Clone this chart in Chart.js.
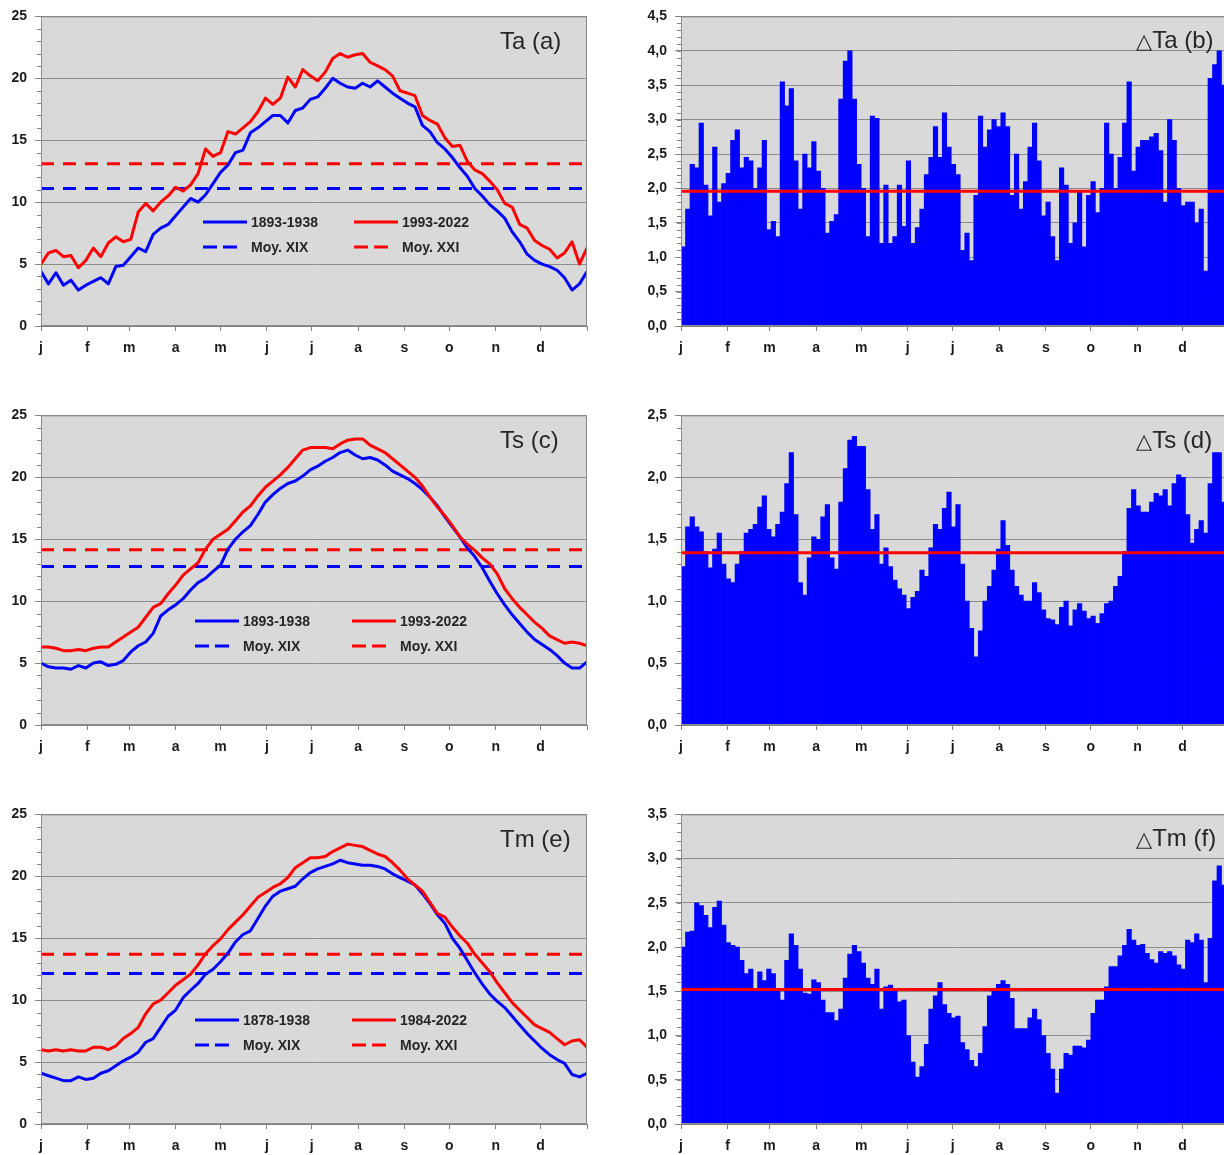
<!DOCTYPE html>
<html>
<head>
<meta charset="utf-8">
<script src="https://cdn.jsdelivr.net/npm/chart.js@4.4.1/dist/chart.umd.min.js"></script>
<style>
  html, body { margin: 0; padding: 0; background: #ffffff; }
  body { width: 1224px; height: 1155px; overflow: hidden; position: relative;
         font-family: "Liberation Sans", Arial, sans-serif; }
  .box { position: absolute; }
  .box canvas { display: block; }
  .title { position: absolute; font-size: 24px; line-height: 28px; height: 28px;
           color: #262626; white-space: nowrap; }
  .title .tri { font-family: "DejaVu Sans", sans-serif; font-size: 21px; }
  .legtxt { position: absolute; font-size: 14px; font-weight: bold; line-height: 16px;
            color: #262626; white-space: nowrap; }
  .legline { position: absolute; }
</style>
</head>
<body>
<div class="box" style="left:0;top:0;"><canvas id="ta" width="600" height="360"></canvas></div>
<div class="box" style="left:620px;top:0;"><canvas id="dta" width="620" height="360"></canvas></div>
<div class="box" style="left:0;top:399px;"><canvas id="ts" width="600" height="360"></canvas></div>
<div class="box" style="left:620px;top:399px;"><canvas id="dts" width="620" height="360"></canvas></div>
<div class="box" style="left:0;top:798px;"><canvas id="tm" width="600" height="360"></canvas></div>
<div class="box" style="left:620px;top:798px;"><canvas id="dtm" width="620" height="360"></canvas></div>
<div id="overlay"></div>

<script>
// ---- calendar ----
const MONTHS = ['j', 'f', 'm', 'a', 'm', 'j', 'j', 'a', 's', 'o', 'n', 'd'];
const MONTH_START = [0, 31, 59, 90, 120, 151, 181, 212, 243, 273, 304, 334];
const YEAR_DAYS = 365;
const LINE_STEP = 5;   // curves: one value every 5 days
const BAR_STEP = 3;    // differences: one bar per 3 days

// ---- Ta : air temperature (°C) ----
const TA_OLD = [4.4, 3.4, 4.3, 3.3, 3.7, 2.9, 3.3, 3.6, 3.9, 3.4, 4.8, 4.9, 5.6, 6.3, 6.0, 7.4, 7.9, 8.2, 8.9, 9.6,
  10.3, 10.0, 10.6, 11.5, 12.4, 13.0, 14.0, 14.2, 15.6, 16.0, 16.5, 17.0, 17.0, 16.4, 17.4, 17.6, 18.3, 18.5,
  19.2, 20.0, 19.6, 19.3, 19.2, 19.6, 19.3, 19.8, 19.3, 18.8, 18.4, 18.0, 17.7, 16.2, 15.7, 14.8, 14.3, 13.6,
  12.8, 12.1, 11.1, 10.5, 9.8, 9.3, 8.7, 7.6, 6.8, 5.8, 5.3, 5.0, 4.8, 4.5, 3.9, 2.9, 3.4, 4.4];
const TA_NEW = [5.0, 5.9, 6.1, 5.6, 5.7, 4.7, 5.3, 6.3, 5.6, 6.7, 7.2, 6.8, 7.0, 9.2, 9.9, 9.3, 10.0, 10.5, 11.2, 10.9,
  11.4, 12.3, 14.3, 13.7, 14.0, 15.7, 15.5, 16.0, 16.5, 17.3, 18.4, 17.9, 18.4, 20.1, 19.3, 20.7, 20.2, 19.8,
  20.5, 21.6, 22.0, 21.7, 21.9, 22.0, 21.3, 21.0, 20.7, 20.2, 19.0, 18.8, 18.6, 17.0, 16.6, 16.3, 15.2, 14.5,
  14.6, 13.3, 12.6, 12.3, 11.7, 11.0, 9.9, 9.6, 8.2, 7.9, 6.9, 6.5, 6.2, 5.5, 5.9, 6.8, 5.0, 6.3];
const TA_MEAN_OLD = 11.1;
const TA_MEAN_NEW = 13.1;

// ---- Ts : surface temperature (°C) ----
const TS_OLD = [5.0, 4.7, 4.6, 4.6, 4.5, 4.8, 4.6, 5.0, 5.1, 4.8, 4.9, 5.2, 5.9, 6.4, 6.7, 7.4, 8.8, 9.3, 9.7, 10.2,
  10.9, 11.5, 11.85, 12.4, 12.9, 14.2, 15.0, 15.6, 16.1, 17.0, 18.0, 18.6, 19.1, 19.5, 19.7, 20.1, 20.6, 20.9,
  21.3, 21.6, 22.0, 22.2, 21.8, 21.5, 21.6, 21.4, 21.0, 20.5, 20.2, 19.9, 19.5, 19.0, 18.4, 17.7, 16.8, 16.0,
  15.2, 14.3, 13.6, 12.7, 11.6, 10.6, 9.7, 8.9, 8.2, 7.5, 6.9, 6.5, 6.1, 5.6, 5.0, 4.6, 4.6, 5.1];
const TS_NEW = [6.3, 6.3, 6.2, 6.0, 6.0, 6.1, 6.0, 6.2, 6.3, 6.3, 6.7, 7.1, 7.5, 7.9, 8.7, 9.5, 9.8, 10.6, 11.3, 12.1,
  12.6, 13.1, 14.2, 15.0, 15.4, 15.8, 16.5, 17.2, 17.7, 18.5, 19.2, 19.7, 20.2, 20.8, 21.5, 22.2, 22.4, 22.4,
  22.4, 22.3, 22.7, 23.0, 23.1, 23.1, 22.6, 22.3, 22.0, 21.5, 21.0, 20.5, 20.0, 19.3, 18.4, 17.6, 16.9, 16.1,
  15.2, 14.6, 14.1, 13.5, 13.0, 12.2, 11.0, 10.2, 9.5, 8.9, 8.3, 7.8, 7.2, 6.9, 6.6, 6.7, 6.6, 6.4];
const TS_MEAN_OLD = 12.8;
const TS_MEAN_NEW = 14.15;

// ---- Tm : mean temperature (°C) ----
const TM_OLD = [4.1, 3.9, 3.7, 3.5, 3.5, 3.8, 3.6, 3.7, 4.1, 4.3, 4.7, 5.1, 5.4, 5.8, 6.6, 6.9, 7.8, 8.7, 9.2, 10.2,
  10.8, 11.35, 12.1, 12.5, 13.1, 13.8, 14.7, 15.3, 15.6, 16.6, 17.6, 18.4, 18.8, 19.0, 19.2, 19.8, 20.3, 20.6,
  20.8, 21.0, 21.3, 21.1, 21.0, 20.9, 20.9, 20.8, 20.6, 20.2, 19.9, 19.6, 19.3, 18.6, 17.8, 16.9, 16.2, 15.0,
  14.2, 13.2, 12.2, 11.3, 10.5, 9.9, 9.4, 8.7, 8.0, 7.3, 6.7, 6.1, 5.6, 5.2, 4.9, 4.0, 3.8, 4.1];
const TM_NEW = [6.0, 5.9, 6.0, 5.9, 6.0, 5.9, 5.9, 6.2, 6.2, 6.0, 6.3, 6.9, 7.3, 7.8, 8.9, 9.7, 10.0, 10.6, 11.2, 11.65,
  12.1, 12.85, 13.75, 14.4, 14.95, 15.7, 16.3, 16.9, 17.6, 18.3, 18.7, 19.1, 19.4, 19.9, 20.7, 21.1, 21.5, 21.5,
  21.6, 22.0, 22.3, 22.6, 22.5, 22.4, 22.1, 21.8, 21.6, 21.1, 20.5, 19.8, 19.3, 18.8, 17.9, 17.0, 16.7, 15.9,
  15.2, 14.6, 13.7, 13.0, 12.3, 11.4, 10.6, 9.8, 9.2, 8.6, 8.0, 7.7, 7.4, 6.9, 6.4, 6.7, 6.8, 6.2];
const TM_MEAN_OLD = 12.15;
const TM_MEAN_NEW = 13.7;

// ---- differences (°C) ----
const D_TA = [1.15, 1.7, 2.35, 2.3, 2.95, 2.05, 1.6, 2.6, 1.8, 2.07,
  2.22, 2.7, 2.85, 2.3, 2.45, 2.4, 2.0, 2.3, 2.7, 1.4,
  1.52, 1.3, 3.55, 3.2, 3.45, 2.4, 1.7, 2.5, 2.3, 2.68,
  2.25, 2.0, 1.35, 1.52, 1.62, 3.3, 3.85, 4.0, 3.3, 2.35,
  2.0, 1.3, 3.05, 3.02, 1.2, 2.05, 1.2, 1.3, 2.05, 1.45,
  2.4, 1.2, 1.43, 1.7, 2.2, 2.45, 2.9, 2.45, 3.1, 2.6,
  2.35, 2.2, 1.1, 1.35, 0.95, 1.9, 3.05, 2.6, 2.85, 3.0,
  2.9, 3.1, 2.9, 1.9, 2.5, 1.7, 2.1, 2.6, 2.95, 2.4,
  1.6, 1.8, 1.3, 0.95, 2.3, 2.05, 1.2, 1.5, 1.95, 1.15,
  1.9, 2.1, 1.65, 2.0, 2.95, 2.5, 2.0, 2.45, 2.95, 3.55,
  2.25, 2.6, 2.7, 2.7, 2.75, 2.8, 2.55, 1.8, 3.0, 2.7,
  2.0, 1.75, 1.8, 1.8, 1.5, 1.7, 0.8, 3.6, 3.8, 4.0,
  3.5, 3.5];
const D_TA_MEAN = 1.96;

const D_TS = [1.28, 1.6, 1.68, 1.6, 1.56, 1.4, 1.27, 1.42, 1.55, 1.3,
  1.18, 1.15, 1.3, 1.4, 1.55, 1.58, 1.62, 1.76, 1.85, 1.58,
  1.52, 1.62, 1.72, 1.95, 2.2, 1.7, 1.15, 1.05, 1.35, 1.52,
  1.5, 1.68, 1.78, 1.35, 1.26, 1.8, 2.07, 2.3, 2.33, 2.25,
  2.25, 1.9, 1.58, 1.7, 1.3, 1.43, 1.28, 1.17, 1.1, 1.05,
  0.94, 1.03, 1.08, 1.25, 1.2, 1.43, 1.62, 1.58, 1.75, 1.88,
  1.6, 1.78, 1.3, 1.0, 0.78, 0.55, 0.76, 1.0, 1.12, 1.25,
  1.42, 1.65, 1.45, 1.25, 1.12, 1.05, 1.0, 1.0, 1.15, 1.07,
  0.93, 0.86, 0.85, 0.81, 0.95, 1.0, 0.8, 0.93, 0.98, 0.92,
  0.86, 0.88, 0.82, 0.9, 0.98, 1.0, 1.12, 1.2, 1.4, 1.75,
  1.9, 1.77, 1.72, 1.72, 1.8, 1.87, 1.85, 1.9, 1.77, 1.95,
  2.02, 2.0, 1.7, 1.47, 1.58, 1.65, 1.55, 1.95, 2.2, 2.2,
  1.8, 1.8];
const D_TS_MEAN = 1.39;

const D_TM = [2.0, 2.17, 2.18, 2.5, 2.47, 2.36, 2.22, 2.45, 2.52, 2.25,
  2.05, 2.02, 2.0, 1.85, 1.7, 1.75, 1.52, 1.72, 1.62, 1.75,
  1.7, 1.5, 1.4, 1.85, 2.15, 2.02, 1.75, 1.48, 1.47, 1.63,
  1.6, 1.4, 1.26, 1.26, 1.17, 1.3, 1.65, 1.92, 2.02, 1.95,
  1.82, 1.65, 1.58, 1.75, 1.3, 1.55, 1.57, 1.5, 1.38, 1.4,
  1.0, 0.7, 0.53, 0.65, 0.9, 1.3, 1.45, 1.6, 1.35, 1.25,
  1.2, 1.22, 0.92, 0.84, 0.72, 0.65, 0.8, 1.1, 1.45, 1.5,
  1.58, 1.62, 1.58, 1.42, 1.08, 1.08, 1.08, 1.2, 1.3, 1.18,
  1.0, 0.8, 0.62, 0.35, 0.62, 0.8, 0.78, 0.88, 0.88, 0.86,
  0.95, 1.25, 1.4, 1.4, 1.55, 1.78, 1.78, 1.9, 2.02, 2.2,
  2.08, 2.02, 2.03, 1.93, 1.86, 1.82, 1.95, 1.93, 1.95, 1.9,
  1.8, 1.75, 2.08, 2.05, 2.15, 2.08, 1.6, 2.1, 2.75, 2.92,
  2.7, 2.7];
const D_TM_MEAN = 1.52;

// ---- legend / title texts ----
const MEAN_LABELS = ['Moy. XIX', 'Moy. XXI'];
const PERIODS_TA = ['1893-1938', '1993-2022'];
const PERIODS_TS = ['1893-1938', '1993-2022'];
const PERIODS_TM = ['1878-1938', '1984-2022'];

// ---------------------------------------------------------------
const BLUE = '#0000ff';
const RED = '#ff0000';
const FONT = '"Liberation Sans", Arial, sans-serif';
Chart.defaults.font.family = FONT;
Chart.defaults.animation = false;

const asCurve = (vals, step) => vals.map((v, i) => ({ x: i * step, y: v }));
const asBins = (vals, step) => vals.map((v, i) => ({ x: i * step + step / 2, y: v }));
const flat = v => [{ x: 0, y: v }, { x: YEAR_DAYS, y: v }];

// grey plot background, frame and minor ticks on the value axis
const plotFrame = {
  id: 'plotFrame',
  beforeDraw(chart) {
    const { ctx, chartArea: a } = chart;
    ctx.save();
    ctx.fillStyle = '#d9d9d9';
    ctx.fillRect(a.left, a.top, a.width, a.height);
    ctx.restore();
  },
  afterDraw(chart, args, opts) {
    const { ctx, chartArea: a } = chart;
    const y = chart.scales.y;
    ctx.save();
    ctx.strokeStyle = '#8c8c8c';
    ctx.lineWidth = 1;
    ctx.strokeRect(a.left + 0.5, a.top + 0.5, a.width - 1, a.height - 1);
    ctx.strokeStyle = '#808080';
    const n = Math.round((y.max - y.min) / opts.minor);
    for (let k = 0; k <= n; k++) {
      const p = Math.round(y.getPixelForValue(y.min + k * opts.minor)) + 0.5;
      ctx.beginPath();
      ctx.moveTo(a.left - 4, p);
      ctx.lineTo(a.left, p);
      ctx.stroke();
    }
    ctx.restore();
  }
};

function xScale(showEnd) {
  return {
    type: 'linear', min: 0, max: YEAR_DAYS, offset: false,
    afterBuildTicks: s => {
      const vals = showEnd ? [...MONTH_START, YEAR_DAYS] : MONTH_START;
      s.ticks = vals.map(v => ({ value: v }));
    },
    afterFit: s => { s.height = 34; },
    ticks: {
      autoSkip: false, maxRotation: 0, minRotation: 0, padding: 9, color: '#1a1a1a',
      font: { size: 14, weight: 'bold' },
      callback: v => { const i = MONTH_START.indexOf(v); return i < 0 ? '' : MONTHS[i]; }
    },
    grid: { drawOnChartArea: false, drawTicks: true, tickLength: 5, color: '#808080', offset: false },
    border: { color: '#808080' }
  };
}

function yScale(max, step, width, fmt) {
  return {
    min: 0, max: max,
    afterFit: s => { s.width = width; },
    ticks: { stepSize: step, padding: 8, color: '#1a1a1a', font: { size: 14, weight: 'bold' }, callback: fmt },
    grid: { color: '#8c8c8c', lineWidth: 1, tickLength: 6 },
    border: { color: '#808080' }
  };
}

function curvePanel(id, oldVals, newVals, meanOld, meanNew) {
  const line = (data, color, order, dash) => ({
    type: 'line', data, borderColor: color, borderWidth: 3, pointRadius: 0,
    borderDash: dash || [], borderJoinStyle: 'round', order, tension: 0
  });
  new Chart(document.getElementById(id), {
    type: 'line',
    data: {
      datasets: [
        line(asCurve(newVals, LINE_STEP), RED, 0),
        line(asCurve(oldVals, LINE_STEP), BLUE, 1),
        line(flat(meanNew), RED, 2, [13, 9]),
        line(flat(meanOld), BLUE, 3, [13, 9])
      ]
    },
    options: {
      responsive: false, devicePixelRatio: 1,
      layout: { padding: { top: 15, right: 13, left: 0, bottom: 0 } },
      plugins: { legend: { display: false }, tooltip: { enabled: false }, plotFrame: { minor: 1 } },
      scales: { x: xScale(true), y: yScale(25, 5, 41, v => String(v)) }
    },
    plugins: [plotFrame]
  });
}

function diffPanel(id, vals, mean, max) {
  new Chart(document.getElementById(id), {
    type: 'bar',
    data: {
      datasets: [
        { type: 'line', data: flat(mean), borderColor: RED, borderWidth: 3, pointRadius: 0, order: 0 },
        { type: 'bar', data: asBins(vals, BAR_STEP), backgroundColor: BLUE, borderWidth: 0,
          barPercentage: 1, categoryPercentage: 1, grouped: false, order: 1 }
      ]
    },
    options: {
      responsive: false, devicePixelRatio: 1,
      layout: { padding: { top: 15, right: 11, left: 0, bottom: 0 } },
      plugins: { legend: { display: false }, tooltip: { enabled: false }, plotFrame: { minor: 0.1 } },
      scales: { x: xScale(false), y: yScale(max, 0.5, 61, v => v.toFixed(1).replace('.', ',')) }
    },
    plugins: [plotFrame]
  });
}

curvePanel('ta', TA_OLD, TA_NEW, TA_MEAN_OLD, TA_MEAN_NEW);
curvePanel('ts', TS_OLD, TS_NEW, TS_MEAN_OLD, TS_MEAN_NEW);
curvePanel('tm', TM_OLD, TM_NEW, TM_MEAN_OLD, TM_MEAN_NEW);
diffPanel('dta', D_TA, D_TA_MEAN, 4.5);
diffPanel('dts', D_TS, D_TS_MEAN, 2.5);
diffPanel('dtm', D_TM, D_TM_MEAN, 3.5);

// ---- panel labels and legends (HTML text over the canvases) ----
const overlay = document.getElementById('overlay');
function addTitle(x, yc, html) {
  const d = document.createElement('div');
  d.className = 'title';
  d.style.left = x + 'px';
  d.style.top = (yc - 14) + 'px';
  d.innerHTML = html;
  overlay.appendChild(d);
}
function addLegendItem(x, yc, color, dashed, text, textX) {
  const w = dashed ? 36 : 44;
  const ns = 'http://www.w3.org/2000/svg';
  const svg = document.createElementNS(ns, 'svg');
  svg.setAttribute('width', w);
  svg.setAttribute('height', 4);
  svg.setAttribute('class', 'legline');
  svg.style.left = x + 'px';
  svg.style.top = (yc - 2) + 'px';
  const ln = document.createElementNS(ns, 'line');
  ln.setAttribute('x1', 0); ln.setAttribute('x2', w);
  ln.setAttribute('y1', 2); ln.setAttribute('y2', 2);
  ln.setAttribute('stroke', color); ln.setAttribute('stroke-width', 3);
  if (dashed) ln.setAttribute('stroke-dasharray', '14 6');
  svg.appendChild(ln);
  overlay.appendChild(svg);
  const t = document.createElement('div');
  t.className = 'legtxt';
  t.style.left = textX + 'px';
  t.style.top = (yc - 8) + 'px';
  t.textContent = text;
  overlay.appendChild(t);
}
function addLegend(top, periods, c1, c2) {
  addLegendItem(c1, top + 222, BLUE, false, periods[0], c1 + 48);
  addLegendItem(c2, top + 222, RED, false, periods[1], c2 + 48);
  addLegendItem(c1, top + 247, BLUE, true, MEAN_LABELS[0], c1 + 48);
  addLegendItem(c2, top + 247, RED, true, MEAN_LABELS[1], c2 + 48);
}

addTitle(500, 41, 'Ta (a)');
addTitle(500, 440, 'Ts (c)');
addTitle(500, 839, 'Tm (e)');
addTitle(1136, 40, '<span class="tri">△</span>Ta (b)');
addTitle(1136, 440, '<span class="tri">△</span>Ts (d)');
addTitle(1136, 838, '<span class="tri">△</span>Tm (f)');

addLegend(0, PERIODS_TA, 203, 354);
addLegend(399, PERIODS_TS, 195, 352);
addLegend(798, PERIODS_TM, 195, 352);
</script>
</body>
</html>
